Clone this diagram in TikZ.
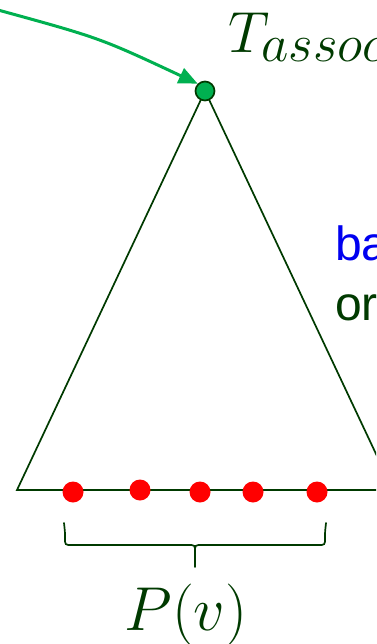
\RequirePackage{fix-cm}
\documentclass[tikz,border=0pt]{standalone}
\usepackage{fontspec}
\newfontfamily\arialfont{Liberation Sans}
\usetikzlibrary{arrows.meta}
\DeclareMathSizes{58}{58}{53}{38}
\DeclareMathSizes{62}{62}{44}{31}
\definecolor{dkgreen}{RGB}{0,58,0}
\definecolor{brgreen}{RGB}{0,176,80}
\definecolor{dotred}{RGB}{255,0,0}
\definecolor{txtblue}{RGB}{0,0,240}
\begin{document}
\begin{tikzpicture}[x=1pt,y=-1pt,
  edge/.style={draw=dkgreen,line width=1.7pt},
  leaf/.style={circle,fill=dotred,inner sep=0pt,minimum size=21pt},
  rootdot/.style={circle,fill=brgreen,draw=dkgreen,line width=1.7pt,inner sep=0pt,minimum size=19pt},
  pointer/.style={draw=brgreen,line width=3pt,-{Triangle[length=19pt,width=16pt]}},
  mathlbl/.style={text=dkgreen,inner sep=0pt},
  sanslbl/.style={inner sep=0pt,font=\fontsize{48pt}{56pt}\arialfont}]
\useasboundingbox (0,0) rectangle (376,644);
\clip (0,0) rectangle (376,644);
% triangle corners
\coordinate (apex) at (205,91);
\coordinate (bl) at (17,490);
\coordinate (br) at (393,490);
\draw[edge,line join=miter] (bl) -- (apex) -- (br) -- cycle;
% leaves
\node[leaf] (p1) at (73,492) {};
\node[leaf] (p2) at (140,490) {};
\node[leaf] (p3) at (200,492) {};
\node[leaf] (p4) at (253,492) {};
\node[leaf] (p5) at (317,492) {};
% root
\node[rootdot] (root) at (apex) {};
% pointer arrow
\coordinate (src) at (-2,10);
\draw[pointer] (src) .. controls (100,38) .. (root.north west);
% labels
\node[mathlbl,anchor=base west] (tlabel) at (228,53) {\fontsize{58}{60}\selectfont$T_{assoc}$};
\node[sanslbl,anchor=base west,text=txtblue] (ba) at (335,260) {ba};
\node[sanslbl,anchor=base west,text=dkgreen] (or) at (335,320) {or};
% brace
\coordinate (bL) at (64,523);
\coordinate (bR) at (326,523);
\coordinate (bM) at (195,567);
\draw[edge,line cap=round] (bL) .. controls (65,532) .. (65,538) .. controls (65,545) .. (72,545) -- (188,545)
  .. controls (195,545) .. (195,552) -- (bM);
\draw[edge,line cap=round] (bR) .. controls (325,532) .. (325,538) .. controls (325,545) .. (318,545) -- (202,545)
  .. controls (195,545) .. (195,552);
\node[mathlbl,anchor=base] (plabel) at (186,630) {\fontsize{62}{64}\selectfont$P(v)$};
\end{tikzpicture}
\end{document}
